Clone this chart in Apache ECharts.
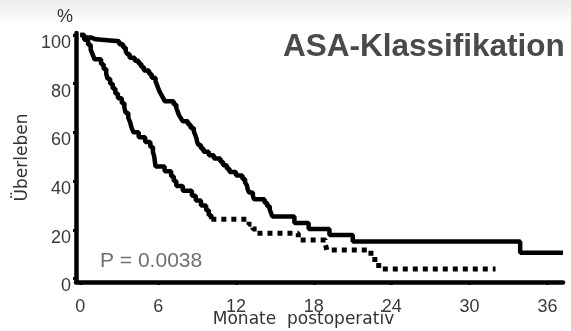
<!DOCTYPE html>
<html>
<head>
<meta charset="utf-8">
<script src="https://cdn.jsdelivr.net/npm/echarts@6/dist/echarts.min.js"></script>
<style>html,body{margin:0;padding:0;background:#fff}#c{width:571px;height:331px}</style>
</head>
<body>
<div id="c"></div>
<script>
// Kaplan-Meier survival (%), [month, value after drop]
var upperCurve = [[0,100],[0.3,99.0],[0.8,98.2],[1.2,97.4],
[3.0,96.2],[3.3,94.8],[3.5,93.4],[3.6,92.2],[3.8,90.6],[4.2,89.4],[4.5,88.2],[4.7,86.8],[4.9,85.4],[5.3,84.0],[5.5,82.4],[5.8,81.0],[5.9,79.6],[6.0,78.2],[6.1,76.8],[6.25,75.4],[6.4,74.0],[6.5,72.8],[7.2,71.4],[7.4,70.0],[7.5,68.6],[7.6,67.2],[7.75,65.8],[7.9,64.6],[8.3,63.2],[8.5,61.8],[8.75,60.4],[8.85,59.0],[8.95,57.6],[9.0,56.2],[9.1,54.8],[9.3,53.4],[9.5,52.0],[9.9,50.6],[10.3,49.3],[10.8,47.9],[11.0,46.5],[11.3,45.1],[11.5,43.7],[12.0,42.3],[12.5,40.9],[12.7,39.5],[12.85,38.1],[12.9,36.7],[13.0,35.3],[13.3,33.9],[13.4,32.5],[14.2,31.1],[14.4,29.7],[14.6,28.3],[14.7,26.9],[14.8,25.5],[16.5,22.8],[17.6,20.3],[19.2,17.9],[21.0,15.2],[33.9,10.6],[37.2,10.6]];
var lowerCurve = [[0,100],[0.3,98.0],[0.6,96.0],[0.8,94.0],[0.95,92.0],[1.1,90.0],[1.6,88.0],[1.8,86.0],[2.0,84.0],[2.1,82.0],[2.3,80.0],[2.5,78.0],[2.7,76.0],[2.9,74.0],[3.2,72.0],[3.4,70.0],[3.5,68.0],[3.7,66.0],[3.85,64.0],[3.95,62.0],[4.1,60.0],[4.5,58.0],[5.0,56.0],[5.4,54.0],[5.6,52.0],[5.7,50.0],[5.75,48.0],[5.8,46.0],[6.5,44.0],[7.0,42.0],[7.2,40.0],[7.4,38.0],[7.9,36.0],[8.6,34.0],[8.9,32.0],[9.3,30.0],[9.7,28.0],[9.9,26.0],[10.1,24.3],[13.0,22.3],[13.3,20.3],[13.6,18.6],[16.8,15.8],[18.9,13.8],[19.0,11.7],[22.4,9.0],[22.7,6.5],[23.0,3.9],[32.0,3.9]];
var dottedFromMonth = 10.1;
var xTicks = [0,6,12,18,24,30,36];
var yTicks = [0,20,40,60,80,100];

var splitIdx = lowerCurve.findIndex(function(p){return p[0] >= dottedFromMonth;});
var lowerEarly = lowerCurve.slice(0, splitIdx + 1);
var lowerLate = lowerCurve.slice(splitIdx);

var chart = echarts.init(document.getElementById('c'));
chart.setOption({
  animation: false,
  backgroundColor: '#fff',
  graphic: [{
    type: 'rect', z: -10, silent: true,
    shape: {x: 0, y: 0, width: 571, height: 24},
    style: {fill: new echarts.graphic.LinearGradient(0,0,0,1,[{offset:0,color:'#ebebeb'},{offset:1,color:'#ffffff'}])}
  }],
  title: [
    {text: 'ASA-Klassifikation', left: 283, top: 31, padding: 0,
     textStyle: {fontFamily: 'Liberation Sans', fontWeight: 'bold', fontSize: 31.5, color: '#4a4a4a'}},
    {text: '%', left: 57, top: 8, padding: 0,
     textStyle: {fontFamily: 'Liberation Sans', fontWeight: 'normal', fontSize: 18, color: '#333'}},
    {text: 'P = 0.0038', left: 100, top: 251, padding: 0,
     textStyle: {fontFamily: 'Liberation Sans', fontWeight: 'normal', fontSize: 21, color: '#707070'}}
  ],
  grid: {left: 76, right: 8, top: 33, bottom: 49, containLabel: false, outerBoundsMode: 'none'},
  xAxis: {
    type: 'value', min: -0.33, max: 37.2,
    name: 'Monate  postoperativ', nameLocation: 'middle', nameGap: 29, nameMoveOverlap: false,
    nameTextStyle: {fontFamily: 'DejaVu Sans', fontSize: 17, color: '#333', padding: [0, 32, 0, 0]},
    axisLine: {onZero: false, lineStyle: {color: '#000', width: 4.5}},
    axisTick: {show: true, length: 3, lineStyle: {color: '#000', width: 3}, customValues: xTicks},
    axisLabel: {customValues: xTicks, margin: 16, fontFamily: 'Liberation Sans', fontSize: 18, color: '#3a3a3a'},
    splitLine: {show: false}
  },
  yAxis: {
    type: 'value', min: -1.44, max: 100.8,
    name: 'Überleben', nameLocation: 'middle', nameGap: 45, nameMoveOverlap: false,
    nameTextStyle: {fontFamily: 'DejaVu Sans', fontSize: 17, color: '#333'},
    axisLine: {onZero: false, lineStyle: {color: '#000', width: 4.5}},
    axisTick: {show: true, length: 3, lineStyle: {color: '#000', width: 3}, customValues: yTicks},
    axisLabel: {customValues: yTicks, margin: 5, verticalAlign: 'top', lineHeight: 16, fontFamily: 'Liberation Sans', fontSize: 18, color: '#3a3a3a'},
    splitLine: {show: false}
  },
  series: [
    {type: 'line', step: 'end', symbol: 'none', data: upperCurve,
     lineStyle: {color: '#000', width: 4.5}},
    {type: 'line', step: 'end', symbol: 'none', data: lowerEarly,
     lineStyle: {color: '#000', width: 4.5}},
    {type: 'line', step: 'end', symbol: 'none', data: lowerLate,
     lineStyle: {color: '#000', width: 5, type: [5, 5], cap: 'butt'}}
  ]
});
</script>
</body>
</html>
